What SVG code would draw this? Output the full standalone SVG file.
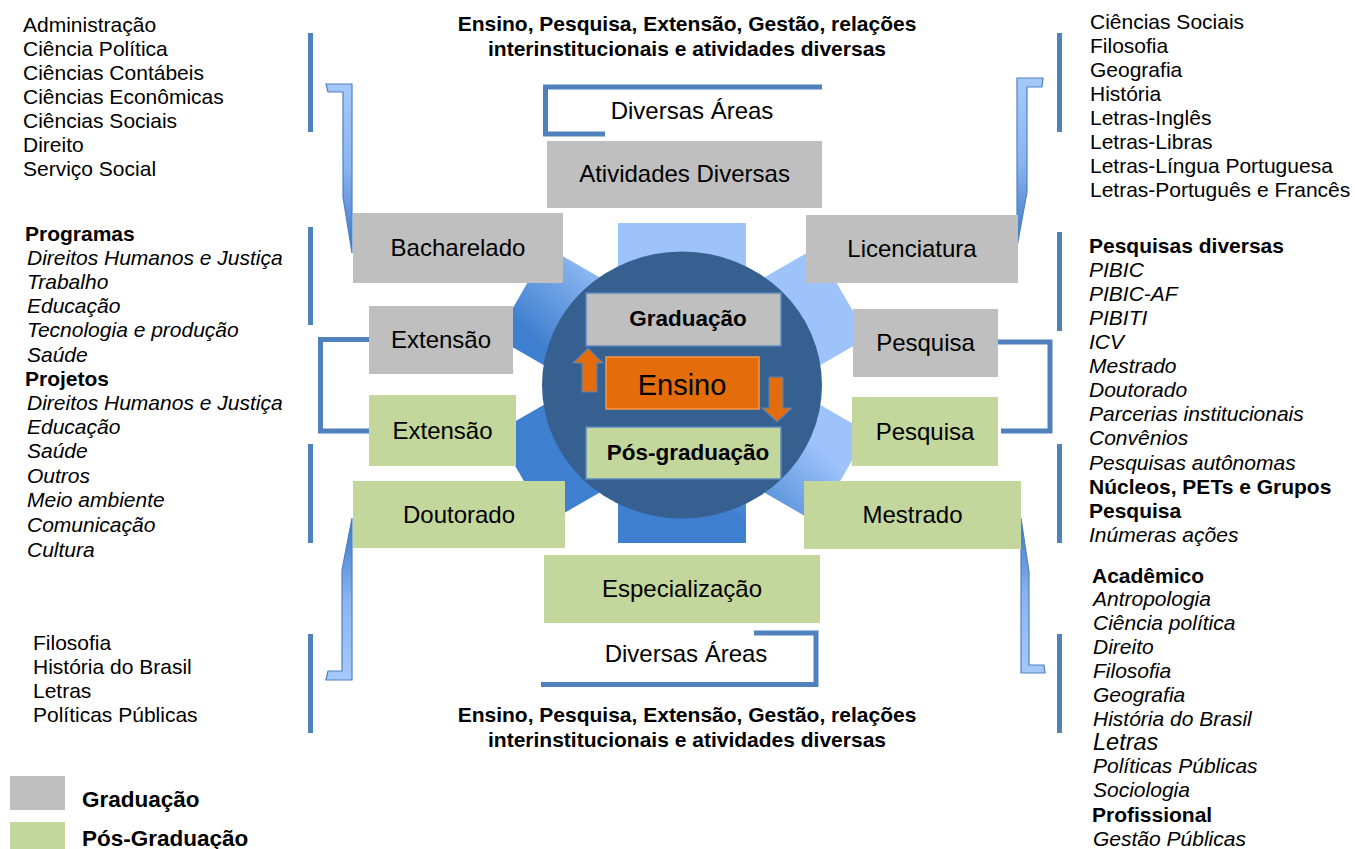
<svg xmlns="http://www.w3.org/2000/svg" width="1355" height="849" viewBox="0 0 1355 849">
<defs>
<linearGradient id="gearGrad" gradientUnits="userSpaceOnUse" x1="760" y1="250" x2="600" y2="430">
<stop offset="0" stop-color="#9DC3FA"/>
<stop offset="0.45" stop-color="#9DC3FA"/>
<stop offset="0.9" stop-color="#3F7FCF"/>
<stop offset="1" stop-color="#3F7FCF"/>
</linearGradient>
<linearGradient id="braceDown" x1="0" y1="0" x2="0" y2="1">
<stop offset="0" stop-color="#A6C9FB"/>
<stop offset="0.5" stop-color="#8AB4F0"/>
<stop offset="1" stop-color="#3A76C6"/>
</linearGradient>
<linearGradient id="braceUp" x1="0" y1="1" x2="0" y2="0">
<stop offset="0" stop-color="#A6C9FB"/>
<stop offset="0.5" stop-color="#8AB4F0"/>
<stop offset="1" stop-color="#3A76C6"/>
</linearGradient>
<style>
.g{fill:#BFBFBF}
.p{fill:#C3D69B}
.lbl{font-family:"Liberation Sans",Arial,sans-serif;font-size:24px;fill:#000;text-anchor:middle}
.lst{font-family:"Liberation Sans",Arial,sans-serif;font-size:21px;fill:#000}
.it{font-style:italic}
.b{font-weight:bold}
.hdr{font-family:"Liberation Sans",Arial,sans-serif;font-size:21px;font-weight:bold;fill:#000;text-anchor:middle}
.con{fill:none;stroke:#4F81BD;stroke-width:5}
.bar{fill:#4F81BD}
.brace{stroke:#4F81BD;stroke-width:1.2}
.inner{stroke:#5B86C0;stroke-width:1.5}
.arrow{fill:#E46C0A;stroke:#4F81BD;stroke-width:1.2}
</style>
</defs>
<rect width="1355" height="849" fill="#FFFFFF"/>

<g id="gear">
<rect x="618" y="223" width="128" height="162" fill="url(#gearGrad)"/>
<rect x="618" y="385" width="128" height="158" fill="url(#gearGrad)"/>
<polygon points="708,340 547.8,247.5 495.8,337.5 656,430" fill="url(#gearGrad)"/>
<polygon points="708,430 547.8,522.5 495.8,432.5 656,340" fill="url(#gearGrad)"/>
<polygon points="656,340 816.2,247.5 868.2,337.5 708,430" fill="url(#gearGrad)"/>
<polygon points="708,340 868.2,432.5 816.2,522.5 656,430" fill="url(#gearGrad)"/>
<ellipse cx="682" cy="385" rx="140" ry="133.5" fill="#36608F"/>
</g>

<g id="connectors">
<path class="con" d="M605,134 H545.5 V87 H822"/>
<path class="con" d="M541,684.5 H816 V633 H754"/>
<path class="con" d="M369,339.5 H320.5 V431 H369"/>
<path class="con" d="M998,342 H1050 V431 H1001"/>
<rect class="bar" x="308" y="33" width="5" height="99"/>
<rect class="bar" x="308" y="227" width="5" height="98"/>
<rect class="bar" x="308" y="444" width="5" height="99"/>
<rect class="bar" x="308" y="634" width="5" height="99"/>
<rect class="bar" x="1057" y="33" width="5" height="99"/>
<rect class="bar" x="1057" y="232" width="5" height="99"/>
<rect class="bar" x="1057" y="444" width="5" height="99"/>
<rect class="bar" x="1057" y="634" width="5" height="99"/>
<polygon class="brace" fill="url(#braceDown)" points="326,84 352,84 352,253 343,197 343,92 328,92"/>
<polygon class="brace" fill="url(#braceDown)" points="1017,78 1043,78 1042,87 1027,87 1027,192 1017,247"/>
<polygon class="brace" fill="url(#braceUp)" points="352,518 352,680 326,680 328,671 342,671 342,570"/>
<polygon class="brace" fill="url(#braceUp)" points="1021,518 1029,572 1029,665 1044,665 1045,673 1021,673"/>
</g>

<g id="atividades"><rect class="g" x="547" y="141" width="275" height="67"/><text class="lbl" x="684.5" y="182">Atividades Diversas</text></g>
<g id="bacharelado"><rect class="g" x="353" y="213" width="210" height="70"/><text class="lbl" x="458" y="256">Bacharelado</text></g>
<g id="licenciatura"><rect class="g" x="806" y="215" width="212" height="68"/><text class="lbl" x="912" y="257">Licenciatura</text></g>
<g id="extensao-grad"><rect class="g" x="369" y="306" width="144" height="68"/><text class="lbl" x="441" y="348">Extensão</text></g>
<g id="extensao-pos"><rect class="p" x="369" y="395" width="147" height="71"/><text class="lbl" x="442.5" y="439">Extensão</text></g>
<g id="doutorado"><rect class="p" x="353" y="481" width="212" height="67"/><text class="lbl" x="459" y="523">Doutorado</text></g>
<g id="pesquisa-grad"><rect class="g" x="853" y="309" width="145" height="68"/><text class="lbl" x="925.5" y="351">Pesquisa</text></g>
<g id="pesquisa-pos"><rect class="p" x="852" y="397" width="146" height="69"/><text class="lbl" x="925" y="440">Pesquisa</text></g>
<g id="mestrado"><rect class="p" x="804" y="481" width="217" height="68"/><text class="lbl" x="912.5" y="523">Mestrado</text></g>
<g id="especializacao"><rect class="p" x="544" y="555" width="276" height="68"/><text class="lbl" x="682" y="597">Especialização</text></g>

<g id="graduacao-inner"><rect class="g inner" x="586" y="293" width="195" height="53"/><text class="hdr" x="688" y="326" style="font-size:22.5px">Graduação</text></g>
<g id="ensino"><rect x="606" y="357" width="153" height="52" fill="#E46C0A" stroke="#F79646" stroke-width="1.5"/><text class="lbl" x="682" y="395" style="font-size:29px">Ensino</text></g>
<g id="posgrad-inner"><rect class="p inner" x="586" y="427" width="195" height="52"/><text class="hdr" x="688" y="460" style="font-size:22.5px">Pós-graduação</text></g>
<g id="arrow-up"><polygon class="arrow" points="588,348 603,363 597,363 597,392 582,392 582,363 573,363"/></g>
<g id="arrow-down"><polygon class="arrow" points="769,377 783,377 783,408 792,408 777,422 762,408 769,408"/></g>

<g id="header-top"><text class="hdr" x="687" y="31">Ensino, Pesquisa, Extensão, Gestão, relações</text><text class="hdr" x="687" y="56">interinstitucionais e atividades diversas</text></g>
<g id="header-bottom"><text class="hdr" x="687" y="722">Ensino, Pesquisa, Extensão, Gestão, relações</text><text class="hdr" x="687" y="747">interinstitucionais e atividades diversas</text></g>
<g id="diversas-top"><text class="lbl" x="692" y="119">Diversas Áreas</text></g>
<g id="diversas-bottom"><text class="lbl" x="686" y="662">Diversas Áreas</text></g>

<g id="list-bacharelado" class="lst">
<text x="23" y="32">Administração</text>
<text x="23" y="56">Ciência Política</text>
<text x="23" y="80">Ciências Contábeis</text>
<text x="23" y="104">Ciências Econômicas</text>
<text x="23" y="128">Ciências Sociais</text>
<text x="23" y="152">Direito</text>
<text x="23" y="176">Serviço Social</text>
</g>
<g id="list-extensao" class="lst">
<text x="25" y="241" class="b">Programas</text>
<text x="27" y="265" class="it">Direitos Humanos e Justiça</text>
<text x="27" y="289" class="it">Trabalho</text>
<text x="27" y="313" class="it">Educação</text>
<text x="27" y="337" class="it">Tecnologia e produção</text>
<text x="27" y="362" class="it">Saúde</text>
<text x="25" y="386" class="b">Projetos</text>
<text x="27" y="410" class="it">Direitos Humanos e Justiça</text>
<text x="27" y="434" class="it">Educação</text>
<text x="27" y="458" class="it">Saúde</text>
<text x="27" y="483" class="it">Outros</text>
<text x="27" y="507" class="it">Meio ambiente</text>
<text x="27" y="532" class="it">Comunicação</text>
<text x="27" y="557" class="it">Cultura</text>
</g>
<g id="list-doutorado" class="lst">
<text x="33" y="650">Filosofia</text>
<text x="33" y="674">História do Brasil</text>
<text x="33" y="698">Letras</text>
<text x="33" y="722">Políticas Públicas</text>
</g>
<g id="list-licenciatura" class="lst">
<text x="1090" y="29">Ciências Sociais</text>
<text x="1090" y="53">Filosofia</text>
<text x="1090" y="77">Geografia</text>
<text x="1090" y="101">História</text>
<text x="1090" y="125">Letras-Inglês</text>
<text x="1090" y="149">Letras-Libras</text>
<text x="1090" y="173">Letras-Língua Portuguesa</text>
<text x="1090" y="197">Letras-Português e Francês</text>
</g>
<g id="list-pesquisa" class="lst">
<text x="1089" y="253" class="b">Pesquisas diversas</text>
<text x="1089" y="277" class="it">PIBIC</text>
<text x="1089" y="301" class="it">PIBIC-AF</text>
<text x="1089" y="325" class="it">PIBITI</text>
<text x="1089" y="349" class="it">ICV</text>
<text x="1089" y="373" class="it">Mestrado</text>
<text x="1089" y="397" class="it">Doutorado</text>
<text x="1089" y="421" class="it">Parcerias institucionais</text>
<text x="1089" y="445" class="it">Convênios</text>
<text x="1089" y="470" class="it">Pesquisas autônomas</text>
<text x="1089" y="494" class="b">Núcleos, PETs e Grupos</text>
<text x="1089" y="518" class="b">Pesquisa</text>
<text x="1089" y="542" class="it">Inúmeras ações</text>
</g>
<g id="list-mestrado" class="lst">
<text x="1092" y="583" class="b">Acadêmico</text>
<text x="1093" y="606" class="it">Antropologia</text>
<text x="1093" y="630" class="it">Ciência política</text>
<text x="1093" y="654" class="it">Direito</text>
<text x="1093" y="678" class="it">Filosofia</text>
<text x="1093" y="702" class="it">Geografia</text>
<text x="1093" y="726" class="it">História do Brasil</text>
<text x="1093" y="750" class="it" style="font-size:23.5px">Letras</text>
<text x="1093" y="773" class="it">Políticas Públicas</text>
<text x="1093" y="797" class="it">Sociologia</text>
<text x="1092" y="822" class="b">Profissional</text>
<text x="1093" y="846" class="it">Gestão Públicas</text>
</g>

<g id="legend">
<rect class="g" x="10" y="776" width="55" height="34"/>
<rect class="p" x="10" y="822" width="55" height="30"/>
<text class="lst b" x="82" y="807" style="font-size:22.5px">Graduação</text>
<text class="lst b" x="82" y="846" style="font-size:22.5px">Pós-Graduação</text>
</g>
</svg>
